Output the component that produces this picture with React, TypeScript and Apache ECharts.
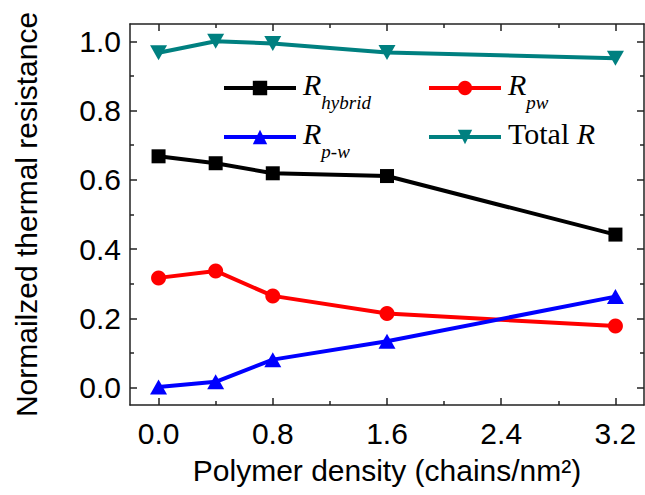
import React, { useEffect, useRef } from "react";
import * as echarts from "echarts";

const densities = [0, 0.4, 0.8, 1.6, 3.2];
const rHybrid = [0.668, 0.648, 0.619, 0.611, 0.442];
const rPw = [0.317, 0.337, 0.265, 0.214, 0.178];
const rPW = [0.002, 0.017, 0.081, 0.134, 0.263];
const totalR = [0.967, 1.0, 0.994, 0.968, 0.951];

const seriesNames = ["R_hybrid", "R_pw", "R_p-w", "Total R"];
const legendLabels = ["{r|R}{s|hybrid}", "{r|R}{s|pw}", "{r|R}{s|p-w}", "{t|Total }{r|R}"];

const xMajorTicks = [0, 0.8, 1.6, 2.4, 3.2];
const xMinorTicks = [0.4, 1.2, 2.0, 2.8];
const yMajorTicks = [0, 0.2, 0.4, 0.6, 0.8, 1.0];
const yMinorTicks = [0.1, 0.3, 0.5, 0.7, 0.9];

const X_MIN = -0.2;
const X_MAX = 3.4;
const Y_MIN = -0.05;
const Y_MAX = 1.05;

const lineColor = "#222";
const sans = "'Liberation Sans', Arial, sans-serif";
const serif = "'Liberation Serif', 'Times New Roman', serif";

function makeAxis(
  kind: "x" | "y",
  position: string,
  ticks: number[],
  len: number,
  showLine: boolean,
  labels: boolean
): any {
  const base: any = {
    type: "value",
    position,
    min: kind === "x" ? X_MIN : Y_MIN,
    max: kind === "x" ? X_MAX : Y_MAX,
    splitLine: { show: false },
    axisLine: { show: showLine, onZero: false, lineStyle: { color: lineColor, width: 1.5 } },
    axisTick: {
      show: true,
      inside: true,
      length: len,
      customValues: ticks,
      lineStyle: { color: lineColor, width: 1.5 },
    },
    axisLabel: labels
      ? {
          show: true,
          customValues: ticks,
          formatter: (v: number) => v.toFixed(1),
          fontFamily: sans,
          fontSize: 30,
          color: "#000",
          margin: kind === "x" ? 13 : 9,
        }
      : { show: false },
  };
  if (kind === "x" && labels) {
    base.name = "Polymer density (chains/nm²)";
    base.nameLocation = "middle";
    base.nameGap = 50;
    base.nameTextStyle = { fontFamily: sans, fontSize: 30, color: "#000" };
  }
  if (kind === "y" && labels) {
    base.name = "Normailzed thermal resistance";
    base.nameLocation = "middle";
    base.nameGap = 89;
    base.nameTextStyle = { fontFamily: sans, fontSize: 30, color: "#000" };
  }
  return base;
}

export default function App() {
  const ref = useRef<HTMLDivElement>(null);

  useEffect(() => {
    document.body.style.margin = "0";
    if (!ref.current) return;
    const chart = echarts.init(ref.current, undefined, { renderer: "svg" });

    const colors = ["#000000", "#ff0000", "#0000ff", "#008080"];
    const symbols = ["rect", "circle", "triangle", "triangle"];
    const sizes: any[] = [14, 15, [17, 15], [17, 15]];
    const rotates = [0, 0, 0, 180];
    const values = [rHybrid, rPw, rPW, totalR];

    const series = seriesNames.map((name, i) => ({
      name,
      type: "line",
      xAxisIndex: 0,
      yAxisIndex: 0,
      data: densities.map((x, j) => [x, values[i][j]]),
      symbol: symbols[i],
      symbolSize: sizes[i],
      symbolRotate: rotates[i],
      showAllSymbol: true,
      lineStyle: { color: colors[i], width: 4 },
      itemStyle: { color: colors[i] },
      z: 2 + i,
    }));

    const rich = {
      r: {
        fontFamily: serif,
        fontStyle: "italic",
        fontSize: 30,
        lineHeight: 30,
        verticalAlign: "top",
        padding: [8, 0, 0, 0],
        color: "#000",
      },
      t: {
        fontFamily: serif,
        fontSize: 30,
        lineHeight: 30,
        verticalAlign: "top",
        padding: [8, 0, 0, 0],
        color: "#000",
      },
      s: {
        fontFamily: serif,
        fontStyle: "italic",
        fontSize: 19,
        lineHeight: 19,
        verticalAlign: "top",
        padding: [32, 0, 0, 0],
        color: "#000",
      },
    };

    const legendPos = [
      [222, 61],
      [427, 61],
      [222, 110],
      [427, 110],
    ];

    const legend = seriesNames.map((name, i) => ({
      data: [name],
      left: legendPos[i][0],
      top: legendPos[i][1],
      padding: 0,
      itemWidth: 72,
      itemHeight: 18,
      itemGap: 0,
      selectedMode: false,
      lineStyle: { width: 4 },
      formatter: () => legendLabels[i],
      textStyle: {
        rich,
        fontFamily: serif,
        fontSize: 30,
        color: "#000",
        padding: [0, 0, 24, 2],
      },
    }));

    chart.setOption({
      animation: false,
      backgroundColor: "#fff",
      grid: { left: 130, right: 1, top: 24, bottom: 90, containLabel: false },
      xAxis: [
        makeAxis("x", "bottom", xMajorTicks, 7, true, true),
        makeAxis("x", "bottom", xMinorTicks, 4, false, false),
        makeAxis("x", "top", xMajorTicks, 7, true, false),
        makeAxis("x", "top", xMinorTicks, 4, false, false),
      ],
      yAxis: [
        makeAxis("y", "left", yMajorTicks, 7, true, true),
        makeAxis("y", "left", yMinorTicks, 4, false, false),
        makeAxis("y", "right", yMajorTicks, 7, true, false),
        makeAxis("y", "right", yMinorTicks, 4, false, false),
      ],
      legend,
      series,
    });

    return () => chart.dispose();
  }, []);

  return <div ref={ref} style={{ width: 645, height: 495 }} />;
}
